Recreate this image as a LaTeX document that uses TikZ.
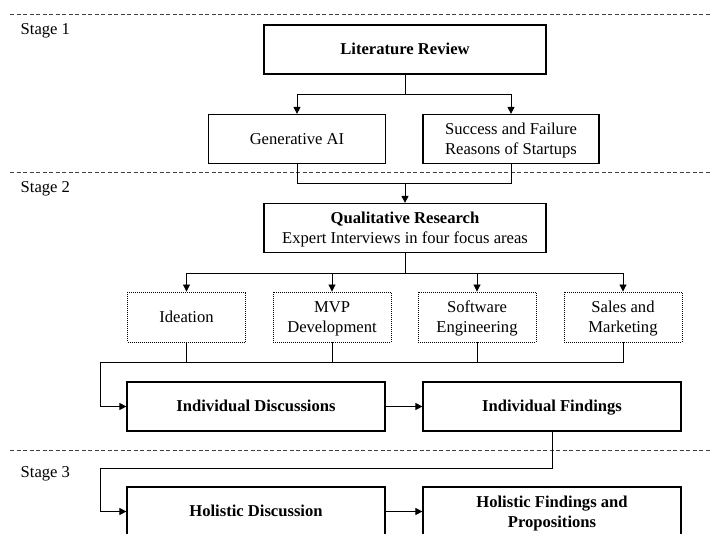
\documentclass[tikz,border=0pt]{standalone}
\usepackage{fontspec}
\setmainfont{Liberation Serif}
\usetikzlibrary{arrows.meta,positioning}
\newcommand{\diagfont}{\fontsize{16.6pt}{20pt}\selectfont}
\tikzset{
  phase/.style={draw, line width=1.2pt, align=center, inner sep=0pt, minimum height=49pt},
  focus/.style={draw, line width=0.9pt, dash pattern=on 1pt off 1pt, align=center, inner sep=0pt, minimum width=118pt, minimum height=50pt},
  oneline/.style={text height=12pt, text depth=1pt},
  twoline/.style={text depth=0pt},
  link/.style={line width=0.9pt},
  flow/.style={link, -{Triangle[length=7pt,width=7pt]}},
  divider/.style={line width=0.8pt, dash pattern=on 4pt off 2.5pt, black!75},
  stagelabel/.style={anchor=west, inner sep=0pt},
}
\begin{document}
\begin{tikzpicture}[x=1pt,y=-1pt,on grid,font=\diagfont]
      \useasboundingbox (0,0) rectangle (710,534);
      \clip (0,0) rectangle (710,534);

      % stage dividers
      \draw[divider] (10,14) -- (710,14);
      \draw[divider] (10,172.5) -- (710,172.5);
      \draw[divider] (10,450) -- (710,450);

      \node[stagelabel, oneline] (stage1) at (20.5,29) {Stage 1};
      \node[stagelabel, oneline] (stage2) at (20.5,187) {Stage 2};
      \node[stagelabel, oneline] (stage3) at (20.5,472) {Stage 3};

      % stage 1
      \node[phase, oneline, minimum width=282pt, font=\diagfont\bfseries] (lit) at (405,49.5) {Literature Review};
      \node[phase, oneline, minimum width=177pt] (genai) [below left=89.5pt and 108pt of lit] {Generative AI};
      \node[phase, twoline, minimum width=176pt] (startups) [below right=89.5pt and 106pt of lit] {Success and Failure\\Reasons of Startups};

      % stage 2
      \node[phase, twoline, minimum width=282pt] (qual) [below=178.5pt of lit] {\textbf{Qualitative Research}\\Expert Interviews in four focus areas};
      \node[focus, oneline] (ideation) [below left=89pt and 218.5pt of qual] {Ideation};
      \node[focus, twoline] (mvp) [below left=89pt and 73pt of qual] {MVP\\Development};
      \node[focus, twoline] (software) [below right=89pt and 72pt of qual] {Software\\Engineering};
      \node[focus, twoline] (sales) [below right=89pt and 218pt of qual] {Sales and\\Marketing};
      \node[phase, oneline, minimum width=258pt, font=\diagfont\bfseries] (inddisc) [below right=89.5pt and 69.5pt of ideation] {Individual Discussions};
      \node[phase, oneline, minimum width=258pt, font=\diagfont\bfseries] (indfind) [right=296pt of inddisc] {Individual Findings};

      % stage 3
      \node[phase, oneline, minimum width=258pt, font=\diagfont\bfseries] (holdisc) [below=105pt of inddisc] {Holistic Discussion};
      \node[phase, twoline, minimum width=258pt, font=\diagfont\bfseries] (holfind) [below=105pt of indfind] {Holistic Findings and\\Propositions};

      % connectors
      \draw[link] (lit.south) -- ++(0,20) coordinate (litfork);
      \draw[flow] (litfork) -| (genai.north);
      \draw[flow] (litfork) -| (startups.north);
      \draw[link] (genai.south) -- ++(0,19) coordinate (litjoin) -| (startups.south);
      \draw[flow] (litjoin -| qual.north) -- (qual.north);

      \draw[link] (qual.south) -- ++(0,20) coordinate (qualfork);
      \foreach \area in {ideation,mvp,software,sales}
        \draw[flow] (qualfork) -| (\area.north);

      \draw[link] (ideation.south) -- ++(0,20) coordinate (focusjoin);
      \foreach \area in {mvp,software,sales}
        \draw[link] (\area.south) |- (focusjoin);
      \draw[flow] (focusjoin) -| ([xshift=-26pt]inddisc.west) -- (inddisc.west);
      \draw[flow] (inddisc) -- (indfind);
      \draw[flow] (indfind.south) -- ++(0,37) -| ([xshift=-26pt]holdisc.west) -- (holdisc.west);
      \draw[flow] (holdisc) -- (holfind);
    \end{tikzpicture}
\end{document}
